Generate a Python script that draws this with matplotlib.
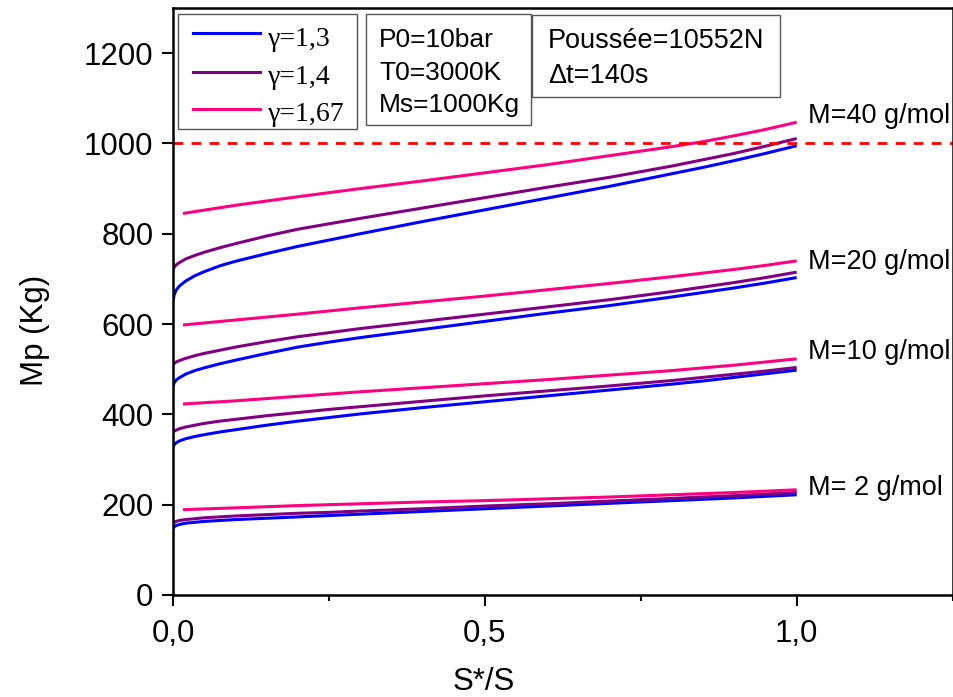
import matplotlib
matplotlib.use("Agg")
import matplotlib.pyplot as plt
from matplotlib.patches import Rectangle
from matplotlib.lines import Line2D
from matplotlib.ticker import MultipleLocator

plt.rcParams['font.family'] = ['Liberation Sans', 'DejaVu Sans']

# ---------------- data ----------------
s_gam = [0, 0.002, 0.005, 0.01, 0.02, 0.035, 0.05, 0.075, 0.1, 0.15, 0.2, 0.25, 0.3,
         0.4, 0.5, 0.6, 0.7, 0.8, 0.85, 0.9, 0.95, 1.0]
s_pink = [0.016, 0.1, 0.2, 0.3, 0.4, 0.5, 0.6, 0.7, 0.8, 0.85, 0.9, 0.95, 1.0]

# M = 40 g/mol
m40_g13 = [652, 665, 675, 684, 695, 707, 716, 729, 739, 756, 772, 786, 800,
           827, 853, 879, 905, 933, 947, 962, 978, 995]
m40_g14 = [720, 726, 731, 736, 744, 752, 759, 769, 778, 795, 810, 822, 834,
           857, 880, 903, 925, 950, 964, 978, 994, 1011]
m40_g167 = [845, 863, 882, 900, 917, 935, 953, 973, 993, 1004, 1017, 1031, 1047]
# M = 20 g/mol
m20_g13 = [463, 470, 476, 481, 489, 497, 503, 512, 520, 535, 549, 560, 570,
           588, 606, 624, 641, 660, 670, 680, 691, 703]
m20_g14 = [509, 513, 516, 519, 524, 530, 535, 542, 549, 561, 572, 581, 590,
           606, 622, 638, 654, 672, 682, 692, 703, 715]
m20_g167 = [598, 609, 622, 636, 649, 662, 676, 690, 705, 713, 721, 730, 740]
# M = 10 g/mol
m10_g13 = [327, 333, 337, 341, 346, 351, 355, 361, 366, 376, 385, 393, 401,
           415, 428, 441, 454, 467, 474, 482, 490, 498]
m10_g14 = [360, 363, 365, 368, 372, 376, 380, 385, 389, 397, 404, 411, 417,
           429, 441, 452, 463, 475, 482, 489, 496, 504]
m10_g167 = [423, 430, 440, 450, 459, 468, 477, 487, 497, 503, 509, 516, 523]
# M = 2 g/mol
m2_g13 = [147, 151, 154, 156, 159, 161, 163, 165, 167, 170, 173, 176, 179,
          185, 191, 197, 203, 209, 212, 215, 218.5, 222]
m2_g14 = [159, 161, 163, 165, 167, 169, 171, 173, 175, 178, 181, 183, 186,
          191, 197, 202, 208, 214, 217, 220, 223.5, 227]
m2_g167 = [189, 193, 198, 202, 206, 209, 213, 217, 222, 224.5, 227, 230, 233]

limit_mass = 1000
gamma_labels = ['γ=1,3', 'γ=1,4', 'γ=1,67']
mass_labels = ['M=40 g/mol', 'M=20 g/mol', 'M=10 g/mol', 'M= 2 g/mol']
label_y = [1060, 737, 539, 237]
x_ticks = [0, 0.5, 1.0]
x_tick_labels = ['0,0', '0,5', '1,0']
y_ticks = [0, 200, 400, 600, 800, 1000, 1200]
box1_lines = ['P0=10bar', 'T0=3000K', 'Ms=1000Kg']
box2_lines = ['Poussée=10552N', 'Δt=140s']

# ---------------- style ----------------
c13 = '#0000FF'
c14 = '#800080'
c167 = '#FF0080'
colors = [c13, c14, c167]
lw = 2.2

W, H = 954, 697
fig = plt.figure(figsize=(W / 100, H / 100), dpi=100)
ax = fig.add_axes([173 / W, (H - 595) / H, (952.6 - 173) / W, (595 - 8) / H])

groups = [(m40_g13, m40_g14, m40_g167), (m20_g13, m20_g14, m20_g167),
          (m10_g13, m10_g14, m10_g167), (m2_g13, m2_g14, m2_g167)]
for g13, g14, g167 in groups:
    ax.plot(s_gam, g13, color=c13, lw=lw, solid_capstyle='butt')
    ax.plot(s_gam, g14, color=c14, lw=lw, solid_capstyle='butt')
    ax.plot(s_pink, g167, color=c167, lw=lw, solid_capstyle='butt')

ax.axhline(limit_mass, color='#FF0000', lw=2.0, ls=(0, (3.5, 3)))

for lab, ly in zip(mass_labels, label_y):
    ax.text(1.018, ly, lab, fontsize=19.5, va='center', ha='left', clip_on=False)

ax.set_xlim(0, 1.25)
ax.set_ylim(0, 1300)
ax.set_xticks(x_ticks)
ax.set_xticklabels(x_tick_labels)
ax.xaxis.set_minor_locator(MultipleLocator(0.25))
ax.set_yticks(y_ticks)
ax.tick_params(axis='both', which='major', direction='out', length=8, width=1.5,
               labelsize=22.5, top=False, right=False)
ax.tick_params(axis='x', which='major', pad=9)
ax.tick_params(axis='y', which='major', pad=6)
ax.tick_params(axis='x', which='minor', direction='out', length=4.5, width=1.5)
for sp in ax.spines.values():
    sp.set_linewidth(1.8)

ax.set_xlabel('S*/S', fontsize=22.5, va='top')
ax.xaxis.set_label_coords(0.399, -0.123)
ax.set_ylabel('Mp (Kg)', fontsize=22.5, va='bottom')
ax.yaxis.set_label_coords(-0.158, 0.451)


def box(x0, y0, x1, y1):
    fig.add_artist(Rectangle((x0 / W, 1 - y1 / H), (x1 - x0) / W, (y1 - y0) / H,
                             transform=fig.transFigure, fill=True, facecolor='white',
                             edgecolor='#555555', lw=1.0))


# legend (drawn as a key box)
box(178, 14, 357, 129)
for lab, col, ly, by in zip(gamma_labels, colors, [33, 72, 109], [46.5, 84, 121]):
    fig.add_artist(Line2D([193 / W, 260 / W], [1 - ly / H, 1 - ly / H],
                          transform=fig.transFigure, color=col, lw=lw))
    fig.text(268 / W, 1 - by / H, lab, fontsize=20, va='baseline', ha='left',
             family=['Liberation Serif', 'DejaVu Serif'])

box(366, 14, 531, 125)
for t, by in zip(box1_lines, [47, 80, 112]):
    fig.text(379 / W, 1 - by / H, t, fontsize=19, va='baseline', ha='left')
box(532, 15, 780, 97)
for t, by in zip(box2_lines, [48, 83]):
    fig.text(548 / W, 1 - by / H, t, fontsize=19.5, va='baseline', ha='left')

fig.savefig('out.png', dpi=100)
